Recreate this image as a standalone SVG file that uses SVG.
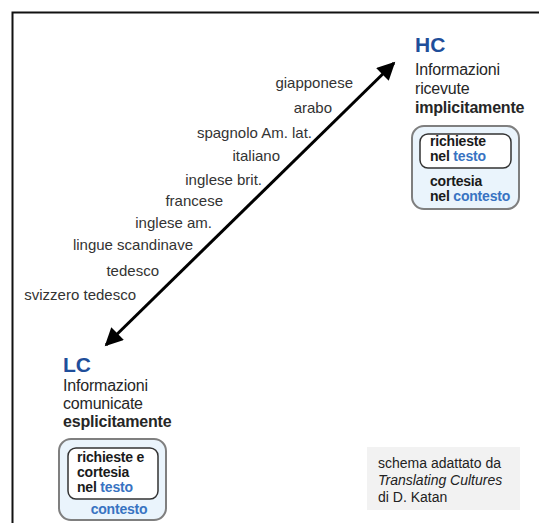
<svg xmlns="http://www.w3.org/2000/svg" width="539" height="523" viewBox="0 0 539 523">
<defs>
<style>
.lang{font-family:"Liberation Sans",Arial,sans-serif;font-size:15px;fill:#333;}
.hd{font-family:"Liberation Sans",Arial,sans-serif;font-size:21px;font-weight:bold;fill:#1f4e9a;}
.desc{font-family:"Liberation Sans",Arial,sans-serif;font-size:16px;fill:#262626;letter-spacing:-0.2px;}
.b{font-weight:bold;}
.bx{font-family:"Liberation Sans",Arial,sans-serif;font-size:14px;font-weight:bold;fill:#1a1a1a;letter-spacing:-0.2px;}
.blue{fill:#3873c2;}
.outer{fill:#eaf4fc;stroke:#7f7f7f;stroke-width:2;}
.inner{fill:#fff;stroke:#333;stroke-width:1.5;}
.cr{font-family:"Liberation Sans",Arial,sans-serif;font-size:14px;fill:#222;}
</style>
<marker id="ah" viewBox="0 0 10 10" refX="9" refY="5" markerWidth="6.5" markerHeight="6" orient="auto-start-reverse" markerUnits="strokeWidth">
<path d="M0,0 L10,5 L0,10 Z" fill="#000"/>
</marker>
</defs>
<rect width="539" height="523" fill="#fff"/>
<path d="M12.5,523 V12.5 H539" fill="none" stroke="#111" stroke-width="2"/>
<g id="connectors">
<line x1="106" y1="345" x2="394" y2="63" stroke="#000" stroke-width="3" marker-start="url(#ah)" marker-end="url(#ah)"/>
</g>
<g id="languages">
<text class="lang" x="353" y="88" text-anchor="end">giapponese</text>
<text class="lang" x="332" y="113" text-anchor="end">arabo</text>
<text class="lang" x="312" y="138" text-anchor="end">spagnolo Am. lat.</text>
<text class="lang" x="280" y="161" text-anchor="end">italiano</text>
<text class="lang" x="262" y="185" text-anchor="end">inglese brit.</text>
<text class="lang" x="223" y="206" text-anchor="end">francese</text>
<text class="lang" x="212" y="228" text-anchor="end">inglese am.</text>
<text class="lang" x="193" y="250" text-anchor="end">lingue scandinave</text>
<text class="lang" x="159" y="276" text-anchor="end">tedesco</text>
<text class="lang" x="136" y="300" text-anchor="end">svizzero tedesco</text>
</g>
<g id="hc">
<text class="hd" x="415" y="52">HC</text>
<text class="desc" x="415" y="75">Informazioni</text>
<text class="desc" x="415" y="94">ricevute</text>
<text class="desc b" x="415" y="113">implicitamente</text>
<rect class="outer" x="412" y="126" width="107" height="83" rx="12"/>
<rect class="inner" x="420" y="134" width="91" height="34" rx="8"/>
<text class="bx" x="430" y="146">richieste</text>
<text class="bx" x="430" y="161">nel <tspan class="blue">testo</tspan></text>
<text class="bx" x="430" y="186">cortesia</text>
<text class="bx" x="430" y="201">nel <tspan class="blue">contesto</tspan></text>
</g>
<g id="lc">
<text class="hd" x="63" y="372">LC</text>
<text class="desc" x="63" y="391">Informazioni</text>
<text class="desc" x="63" y="409">comunicate</text>
<text class="desc b" x="63" y="427">esplicitamente</text>
<rect class="outer" x="59" y="439" width="107" height="81" rx="12"/>
<rect class="inner" x="68" y="448" width="90" height="51" rx="8"/>
<text class="bx" x="77" y="462">richieste e</text>
<text class="bx" x="77" y="477">cortesia</text>
<text class="bx" x="77" y="492">nel <tspan class="blue">testo</tspan></text>
<text class="bx blue" x="119" y="514" text-anchor="middle">contesto</text>
</g>
<g id="credit">
<rect x="367" y="447" width="153" height="63" fill="#f2f2f2"/>
<text class="cr" x="378" y="468">schema adattato da</text>
<text class="cr" x="378" y="485" font-style="italic">Translating Cultures</text>
<text class="cr" x="378" y="502">di D. Katan</text>
</g>
</svg>
